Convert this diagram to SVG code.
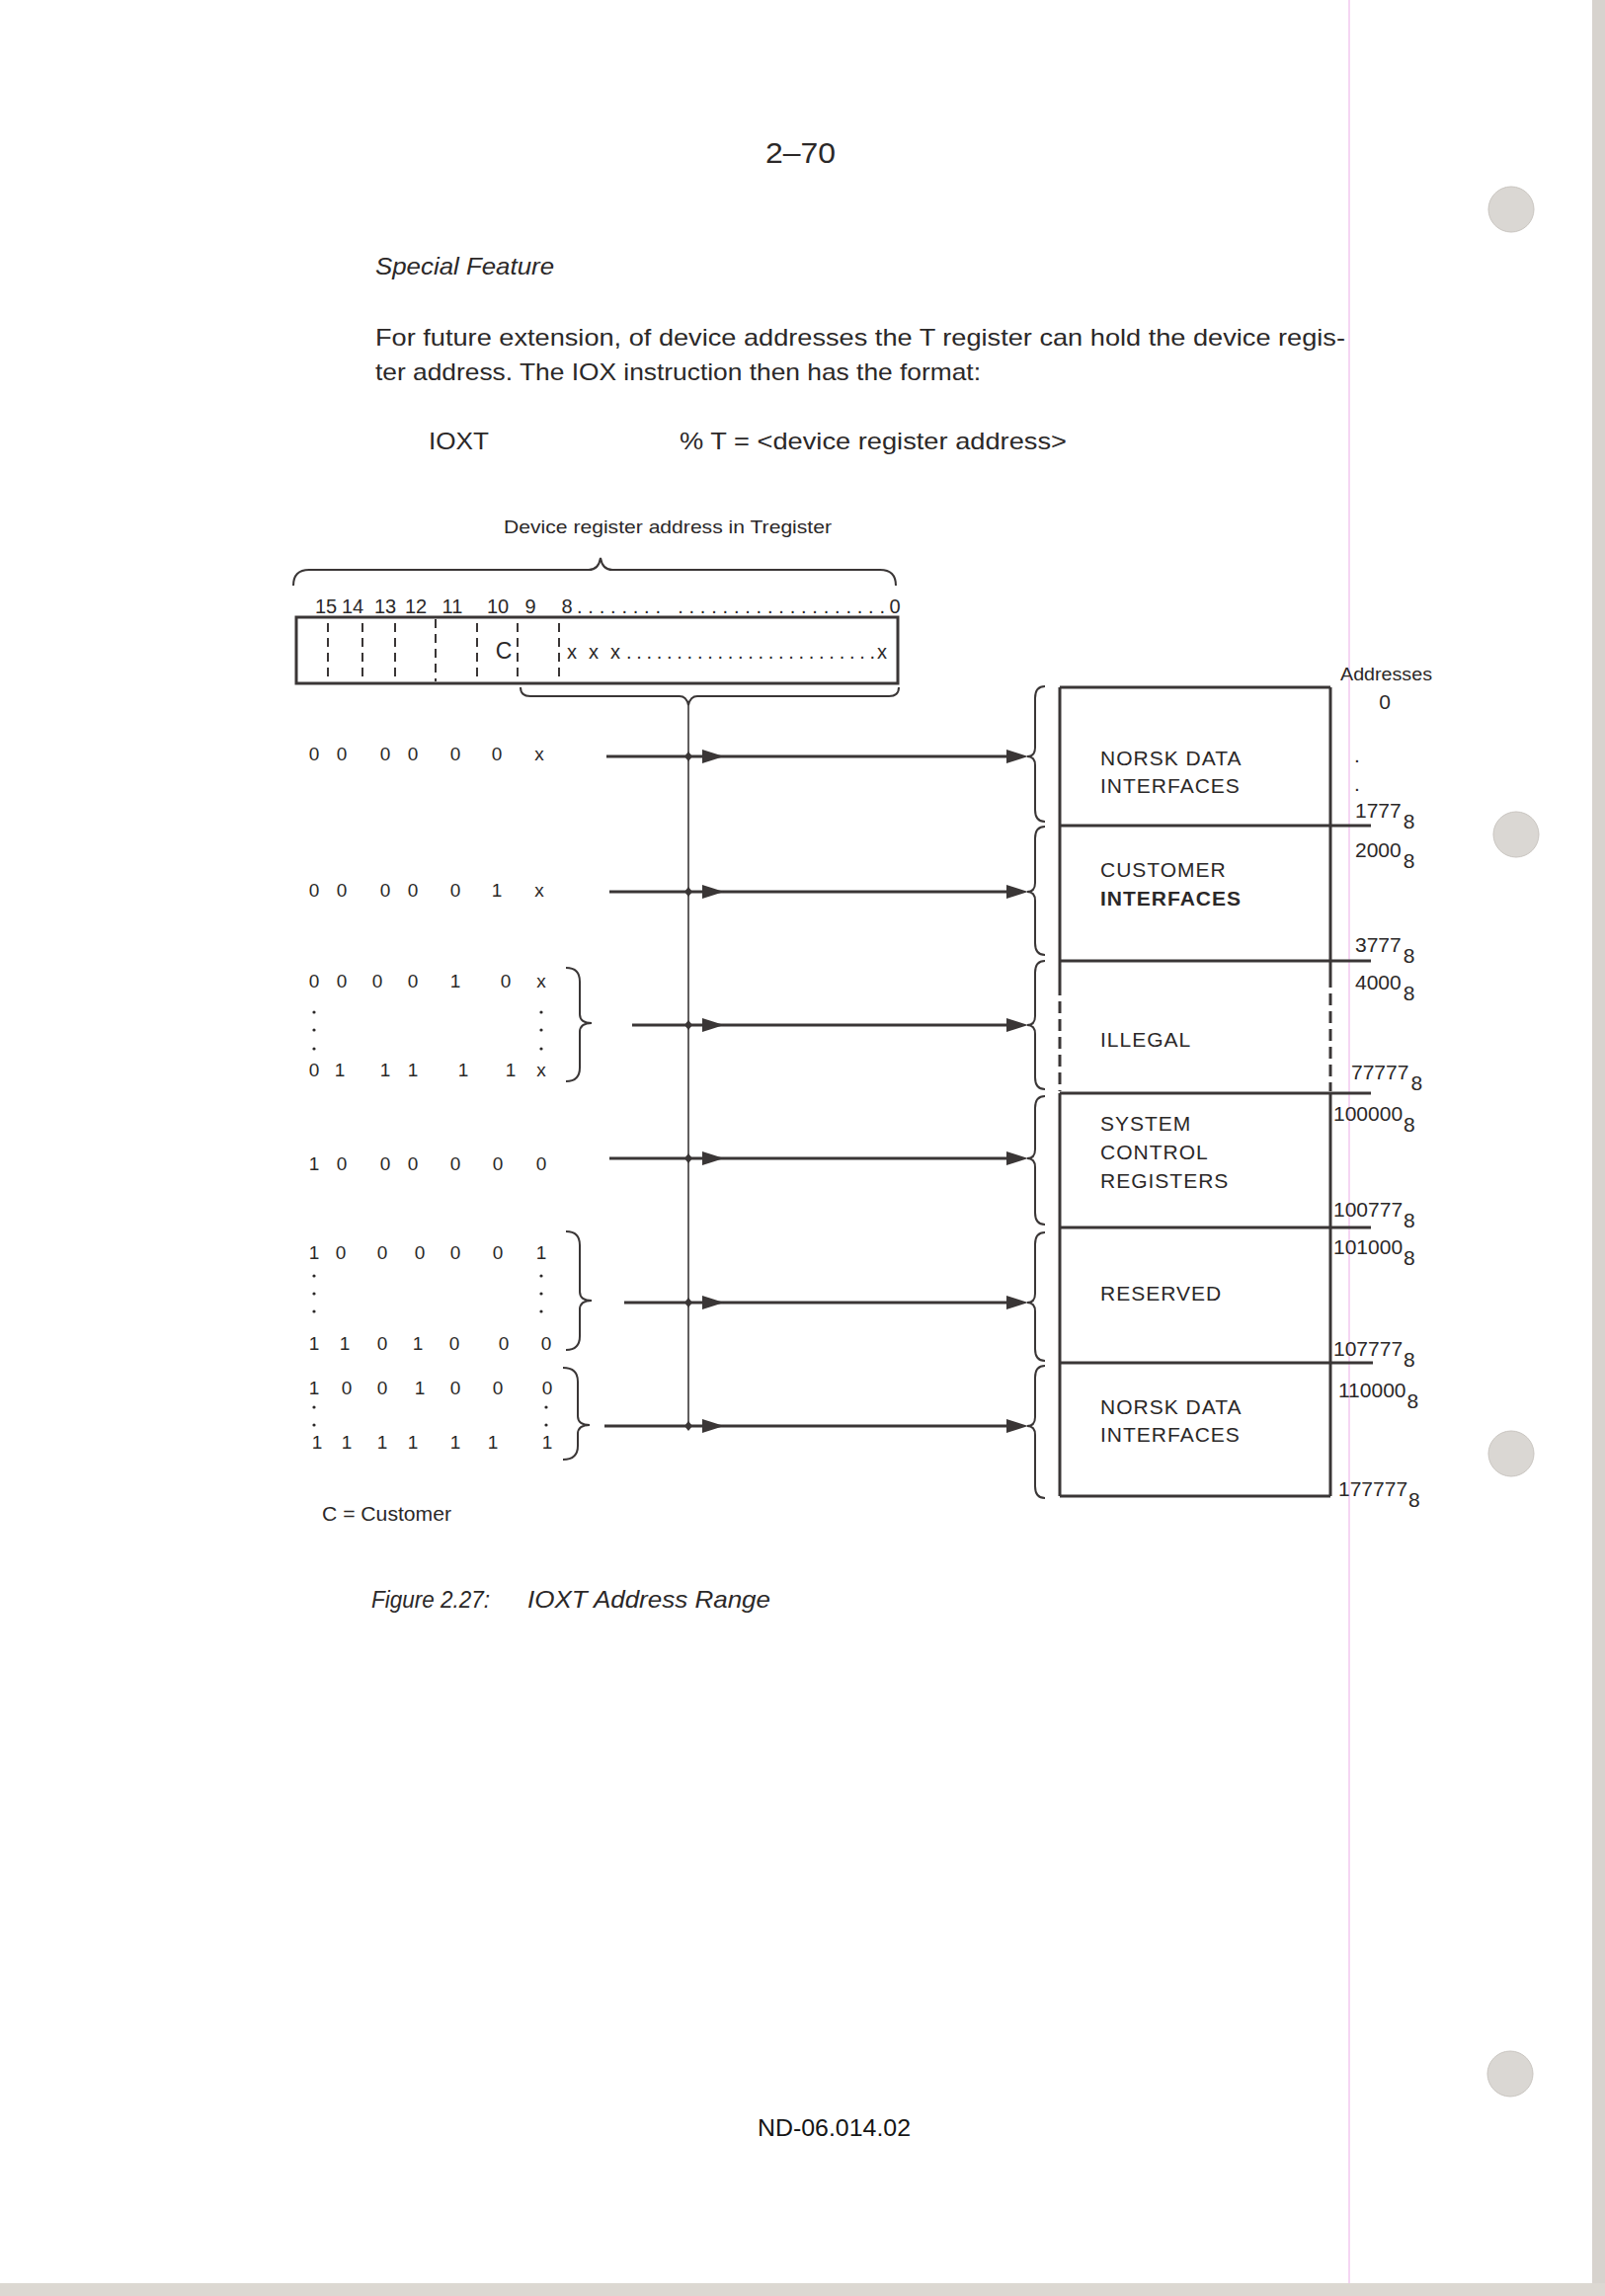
<svg xmlns="http://www.w3.org/2000/svg" width="1625" height="2325" viewBox="0 0 1625 2325">
<style>
text{font-family:"Liberation Sans",Arial,sans-serif;fill:#2b2828}
.pg{font-size:30px}
.it{font-style:italic}
.body{font-size:24px}
.small{font-size:19px}
.bit{font-size:20px}
.lbl{font-size:21px;letter-spacing:1px}
.adr{font-size:21px}
.row{font-size:19px;text-anchor:middle}
.vd{fill:#2b2828}
.ln{fill:none;stroke:#3a3636;stroke-width:3}
.thin{fill:none;stroke:#3a3636;stroke-width:1.6}
.br{fill:none;stroke:#3a3636;stroke-width:2}
.dash{fill:none;stroke:#3a3636;stroke-width:2;stroke-dasharray:9 6}
.conn{stroke:#3a3636;stroke-width:3}
.head{fill:#3a3636}
</style>
<defs>
<path id="ah" d="M0,0 L-22,-7 L-22,7 Z"/>
<path id="dm" d="M0,-5 L4,0 L0,5 L-4,0 Z"/>
</defs>
<rect width="1625" height="2325" fill="#ffffff"/>
<rect x="1612" y="0" width="13" height="2325" fill="#d7d3ce"/>
<rect x="0" y="2312" width="1625" height="13" fill="#dcd8d2"/>
<line x1="1366" y1="0" x2="1366" y2="2312" stroke="#f2c8ef" stroke-width="1.5"/>
<g id="holes" fill="#dad7d3" stroke="#c9c5c0" stroke-width="1">
<circle cx="1530" cy="212" r="23"/>
<circle cx="1535" cy="845" r="23"/>
<circle cx="1530" cy="1472" r="23"/>
<circle cx="1529" cy="2100" r="23"/>
</g>

<g id="page-text">
<text class="pg" x="775" y="165" textLength="71" lengthAdjust="spacingAndGlyphs">2–70</text>
<text class="body it" x="380" y="278" textLength="181" lengthAdjust="spacingAndGlyphs">Special Feature</text>
<text class="body" x="380" y="350" textLength="982" lengthAdjust="spacingAndGlyphs">For future extension, of device addresses the T register can hold the device regis-</text>
<text class="body" x="380" y="385" textLength="613" lengthAdjust="spacingAndGlyphs">ter address. The IOX instruction then has the format:</text>
<text class="body" x="434" y="455" textLength="61" lengthAdjust="spacingAndGlyphs">IOXT</text>
<text class="body" x="688" y="455" textLength="392" lengthAdjust="spacingAndGlyphs">% T = &lt;device register address&gt;</text>
<text class="body it" x="376" y="1628" textLength="120" lengthAdjust="spacingAndGlyphs">Figure 2.27:</text>
<text class="body it" x="534" y="1628" textLength="246" lengthAdjust="spacingAndGlyphs">IOXT Address Range</text>
<text class="body" x="767" y="2163" textLength="155" lengthAdjust="spacingAndGlyphs" style="fill:#151515">ND-06.014.02</text>
</g>

<g id="register">
<text class="small" x="510" y="540" textLength="332" lengthAdjust="spacingAndGlyphs">Device register address in Tregister</text>
<path class="br" d="M297,593 Q297,577 313,577 L596,577 Q606,577 608,565 Q610,577 620,577 L891,577 Q907,577 907,593"/>
<text class="bit" text-anchor="middle" x="330" y="621">15</text>
<text class="bit" text-anchor="middle" x="357" y="621">14</text>
<text class="bit" text-anchor="middle" x="390" y="621">13</text>
<text class="bit" text-anchor="middle" x="421" y="621">12</text>
<text class="bit" text-anchor="middle" x="458" y="621">11</text>
<text class="bit" text-anchor="middle" x="504" y="621">10</text>
<text class="bit" text-anchor="middle" x="537" y="621">9</text>
<text class="bit" text-anchor="middle" x="574" y="621">8</text>
<text class="bit" x="584" y="621" textLength="312">........  ...................</text>
<text class="bit" text-anchor="middle" x="906" y="621">0</text>
<rect class="ln" x="300" y="625" width="609" height="67"/>
<line class="dash" x1="332" y1="631" x2="332" y2="688"/>
<line class="dash" x1="367" y1="631" x2="367" y2="688"/>
<line class="dash" x1="400" y1="631" x2="400" y2="688"/>
<line class="dash" x1="441" y1="627" x2="441" y2="690"/>
<line class="dash" x1="483" y1="631" x2="483" y2="688"/>
<line class="dash" x1="524" y1="631" x2="524" y2="688"/>
<line class="dash" x1="566" y1="631" x2="566" y2="688"/>
<text x="510" y="667" text-anchor="middle" style="font-size:23px">C</text>
<text class="bit" x="574" y="667" textLength="54">x x x</text>
<text class="bit" x="634" y="667" textLength="252">.........................</text>
<text class="bit" x="888" y="667">x</text>
<path class="br" d="M527,696 Q527,705 537,705 L688,705 Q695,705 697,714 Q699,705 706,705 L900,705 Q910,705 910,696"/>
</g>

<g id="row1"><text class="row" x="318 332 346 368 390 404 418 440 461 482 503 525 546" y="770">0 0 0 0 0 0 x</text></g>
<g id="row2"><text class="row" x="318 332 346 368 390 404 418 440 461 482 503 525 546" y="908">0 0 0 0 0 1 x</text></g>
<g id="row3">
<text class="row" x="318 332 346 364 382 400 418 440 461 486 512 530 548" y="1000">0 0 0 0 1 0 x</text>
<g class="vd"><circle cx="318" cy="1025" r="1.6"/><circle cx="318" cy="1043" r="1.6"/><circle cx="318" cy="1062" r="1.6"/>
<circle cx="548" cy="1025" r="1.6"/><circle cx="548" cy="1043" r="1.6"/><circle cx="548" cy="1062" r="1.6"/></g>
<text class="row" x="318 331 344 367 390 404 418 443 469 493 517 532 548" y="1090">0 1 1 1 1 1 x</text>
<path class="br" d="M573,980 Q587,980 587,994 L587,1027 Q587,1036 599,1036 Q587,1036 587,1045 L587,1081 Q587,1095 573,1095"/>
</g>
<g id="row4"><text class="row" x="318 332 346 368 390 404 418 440 461 482 504 526 548" y="1185">1 0 0 0 0 0 0</text></g>
<g id="row5">
<text class="row" x="318 331 345 366 387 406 425 443 461 482 504 526 548" y="1275">1 0 0 0 0 0 1</text>
<g class="vd"><circle cx="318" cy="1292" r="1.6"/><circle cx="318" cy="1310" r="1.6"/><circle cx="318" cy="1328" r="1.6"/>
<circle cx="548" cy="1292" r="1.6"/><circle cx="548" cy="1310" r="1.6"/><circle cx="548" cy="1328" r="1.6"/></g>
<text class="row" x="318 333 349 368 387 405 423 441 460 485 510 531 553" y="1367">1 1 0 1 0 0 0</text>
<path class="br" d="M573,1247 Q587,1247 587,1261 L587,1308 Q587,1317 599,1317 Q587,1317 587,1326 L587,1353 Q587,1367 573,1367"/>
</g>
<g id="row6">
<text class="row" x="318 334 351 369 387 406 425 443 461 482 504 529 554" y="1412">1 0 0 1 0 0 0</text>
<g class="vd"><circle cx="318" cy="1425" r="1.6"/><circle cx="318" cy="1443" r="1.6"/>
<circle cx="553" cy="1425" r="1.6"/><circle cx="553" cy="1443" r="1.6"/></g>
<text class="row" x="321 336 351 369 387 402 418 440 461 480 499 527 554" y="1467">1 1 1 1 1 1 1</text>
<path class="br" d="M570,1385 Q585,1385 585,1399 L585,1434 Q585,1443 597,1443 Q585,1443 585,1452 L585,1464 Q585,1478 570,1478"/>
</g>
<g id="legend"><text x="326" y="1540" style="font-size:20px" textLength="131" lengthAdjust="spacingAndGlyphs">C = Customer</text></g>

<g id="connectors">
<line class="thin" x1="697" y1="713" x2="697" y2="1444"/>
<line class="conn" x1="614" y1="766" x2="1030" y2="766"/>
<line class="conn" x1="617" y1="903" x2="1030" y2="903"/>
<line class="conn" x1="640" y1="1038" x2="1030" y2="1038"/>
<line class="conn" x1="617" y1="1173" x2="1030" y2="1173"/>
<line class="conn" x1="632" y1="1319" x2="1030" y2="1319"/>
<line class="conn" x1="612" y1="1444" x2="1030" y2="1444"/>
<g class="head">
<use href="#dm" x="697" y="766"/><use href="#ah" x="733" y="766"/><use href="#ah" x="1041" y="766"/>
<use href="#dm" x="697" y="903"/><use href="#ah" x="733" y="903"/><use href="#ah" x="1041" y="903"/>
<use href="#dm" x="697" y="1038"/><use href="#ah" x="733" y="1038"/><use href="#ah" x="1041" y="1038"/>
<use href="#dm" x="697" y="1173"/><use href="#ah" x="733" y="1173"/><use href="#ah" x="1041" y="1173"/>
<use href="#dm" x="697" y="1319"/><use href="#ah" x="733" y="1319"/><use href="#ah" x="1041" y="1319"/>
<use href="#dm" x="697" y="1444"/><use href="#ah" x="733" y="1444"/><use href="#ah" x="1041" y="1444"/>
</g>
<path class="br" d="M1058,695 Q1048,695 1048,707 L1048,757 Q1048,766 1040,766 Q1048,766 1048,775 L1048,820 Q1048,832 1058,832"/>
<path class="br" d="M1058,837 Q1048,837 1048,849 L1048,894 Q1048,903 1040,903 Q1048,903 1048,912 L1048,955 Q1048,967 1058,967"/>
<path class="br" d="M1058,973 Q1048,973 1048,985 L1048,1029 Q1048,1038 1040,1038 Q1048,1038 1048,1047 L1048,1091 Q1048,1103 1058,1103"/>
<path class="br" d="M1058,1110 Q1048,1110 1048,1122 L1048,1164 Q1048,1173 1040,1173 Q1048,1173 1048,1182 L1048,1228 Q1048,1240 1058,1240"/>
<path class="br" d="M1058,1248 Q1048,1248 1048,1260 L1048,1310 Q1048,1319 1040,1319 Q1048,1319 1048,1328 L1048,1366 Q1048,1378 1058,1378"/>
<path class="br" d="M1058,1383 Q1048,1383 1048,1395 L1048,1435 Q1048,1444 1040,1444 Q1048,1444 1048,1453 L1048,1505 Q1048,1517 1058,1517"/>
</g>

<g id="address-map">
<line class="ln" x1="1073" y1="696" x2="1347" y2="696"/>
<line class="ln" x1="1073" y1="1515" x2="1347" y2="1515"/>
<path class="ln" d="M1073,696 V1008 M1073,1107 V1515 M1347,696 V1000 M1347,1107 V1515"/>
<line class="ln" x1="1073" y1="1014" x2="1073" y2="1105" style="stroke-dasharray:12 6"/>
<line class="ln" x1="1347" y1="1006" x2="1347" y2="1105" style="stroke-dasharray:12 6"/>
</g>
<g id="blk-nd1"><line class="ln" x1="1073" y1="836" x2="1388" y2="836"/><text class="lbl" x="1114" y="775">NORSK DATA</text><text class="lbl" x="1114" y="803">INTERFACES</text></g>
<g id="blk-cust"><line class="ln" x1="1073" y1="973" x2="1388" y2="973"/><text class="lbl" x="1114" y="888">CUSTOMER</text><text class="lbl" x="1114" y="917" font-weight="bold">INTERFACES</text></g>
<g id="blk-illegal"><line class="ln" x1="1073" y1="1107" x2="1388" y2="1107"/><text class="lbl" x="1114" y="1060">ILLEGAL</text></g>
<g id="blk-sys"><line class="ln" x1="1073" y1="1243" x2="1388" y2="1243"/><text class="lbl" x="1114" y="1145">SYSTEM</text><text class="lbl" x="1114" y="1174">CONTROL</text><text class="lbl" x="1114" y="1203">REGISTERS</text></g>
<g id="blk-res"><line class="ln" x1="1073" y1="1380" x2="1390" y2="1380"/><text class="lbl" x="1114" y="1317">RESERVED</text></g>
<g id="blk-nd2"><text class="lbl" x="1114" y="1432">NORSK DATA</text><text class="lbl" x="1114" y="1460">INTERFACES</text></g>

<g id="addresses">
<text x="1357" y="689" style="font-size:18px" textLength="93" lengthAdjust="spacingAndGlyphs">Addresses</text>
<text class="adr" x="1402" y="718" text-anchor="middle">0</text>
<text class="adr" x="1374" y="772" text-anchor="middle">.</text>
<text class="adr" x="1374" y="801" text-anchor="middle">.</text>
<text class="adr" x="1372" y="828">1777<tspan dx="2" dy="11">8</tspan></text>
<text class="adr" x="1372" y="868">2000<tspan dx="2" dy="11">8</tspan></text>
<text class="adr" x="1372" y="964">3777<tspan dx="2" dy="11">8</tspan></text>
<text class="adr" x="1372" y="1002">4000<tspan dx="2" dy="11">8</tspan></text>
<text class="adr" x="1368" y="1093">77777<tspan dx="2" dy="11">8</tspan></text>
<text class="adr" x="1350" y="1135">100000<tspan dx="1" dy="11">8</tspan></text>
<text class="adr" x="1350" y="1232">100777<tspan dx="1" dy="11">8</tspan></text>
<text class="adr" x="1350" y="1270">101000<tspan dx="1" dy="11">8</tspan></text>
<text class="adr" x="1350" y="1373">107777<tspan dx="1" dy="11">8</tspan></text>
<text class="adr" x="1355" y="1415">110000<tspan dx="1" dy="11">8</tspan></text>
<text class="adr" x="1355" y="1515">177777<tspan dx="1" dy="11">8</tspan></text>
</g>
</svg>
